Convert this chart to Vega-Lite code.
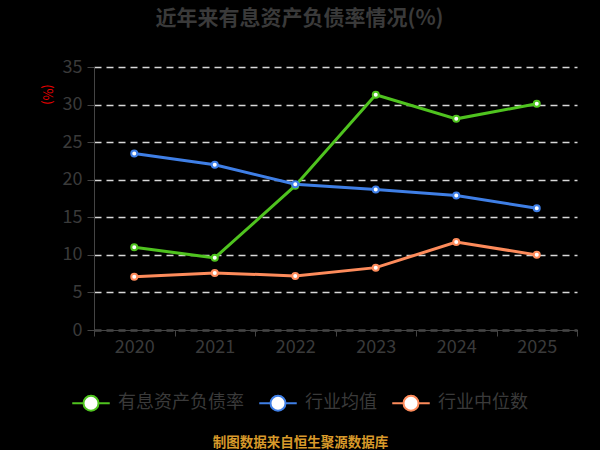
{
  "$schema": "https://vega.github.io/schema/vega-lite/v6.json",
  "width": 483,
  "height": 263,
  "autosize": "none",
  "padding": {"left": 94, "top": 67, "right": 23, "bottom": 120},
  "background": "#000000",
  "title": {
    "text": "近年来有息资产负债率情况(%)",
    "font": "Noto Sans CJK SC",
    "fontSize": 21,
    "fontWeight": "bold",
    "color": "#3a3a3a",
    "anchor": "middle",
    "dx": -36,
    "offset": 29
  },
  "data": {
    "values": [
      {"year": "2020", "series": "有息资产负债率", "value": 11.0},
      {"year": "2021", "series": "有息资产负债率", "value": 9.6},
      {"year": "2022", "series": "有息资产负债率", "value": 19.2},
      {"year": "2023", "series": "有息资产负债率", "value": 31.3},
      {"year": "2024", "series": "有息资产负债率", "value": 28.1},
      {"year": "2025", "series": "有息资产负债率", "value": 30.1},
      {"year": "2020", "series": "行业均值", "value": 23.5},
      {"year": "2021", "series": "行业均值", "value": 22.0},
      {"year": "2022", "series": "行业均值", "value": 19.4},
      {"year": "2023", "series": "行业均值", "value": 18.7},
      {"year": "2024", "series": "行业均值", "value": 17.9},
      {"year": "2025", "series": "行业均值", "value": 16.2},
      {"year": "2020", "series": "行业中位数", "value": 7.1},
      {"year": "2021", "series": "行业中位数", "value": 7.6},
      {"year": "2022", "series": "行业中位数", "value": 7.2},
      {"year": "2023", "series": "行业中位数", "value": 8.3},
      {"year": "2024", "series": "行业中位数", "value": 11.7},
      {"year": "2025", "series": "行业中位数", "value": 10.0}
    ]
  },
  "mark": {
    "type": "line",
    "strokeWidth": 3,
    "point": {"filled": false, "fill": "#ffffff", "size": 36, "strokeWidth": 2, "opacity": 1}
  },
  "encoding": {
    "x": {
      "field": "year",
      "type": "ordinal",
      "scale": {"paddingInner": 0, "paddingOuter": 0},
      "axis": {
        "title": "制图数据来自恒生聚源数据库",
        "titleFont": "Noto Sans CJK SC",
        "titleFontSize": 13.5,
        "titleFontWeight": "bold",
        "titleColor": "#d89a2a",
        "titleX": 206,
        "titleY": 112,
        "titleAnchor": null,
        "titleAlign": "center",
        "titleBaseline": "middle",
        "labelAngle": 0,
        "labelFont": "Noto Sans CJK SC",
        "labelFontSize": 18,
        "labelColor": "#3a3a3a",
        "labelPadding": 2,
        "tickBand": "extent",
        "tickSize": 6,
        "tickColor": "#444444",
        "domainColor": "#444444",
        "grid": false
      }
    },
    "y": {
      "field": "value",
      "type": "quantitative",
      "scale": {"domain": [0, 35]},
      "axis": {
        "title": "(%)",
        "titleAngle": 90,
        "titleColor": "#ee0000",
        "titleFont": "Noto Sans CJK SC",
        "titleFontSize": 13,
        "titleFontWeight": "normal",
        "titleX": -48,
        "titleY": 27,
        "titleAlign": "center",
        "titleBaseline": "middle",
        "values": [0, 5, 10, 15, 20, 25, 30, 35],
        "labelFont": "Noto Sans CJK SC",
        "labelFontSize": 18,
        "labelColor": "#3a3a3a",
        "labelPadding": 5,
        "tickSize": 7,
        "tickColor": "#444444",
        "domainColor": "#444444",
        "grid": true,
        "gridColor": "#d8d8d8",
        "gridDash": [7, 5],
        "gridWidth": 1.5
      }
    },
    "color": {
      "field": "series",
      "type": "nominal",
      "scale": {
        "domain": ["有息资产负债率", "行业均值", "行业中位数"],
        "range": ["#4fc31f", "#3f7fe6", "#fd8b5b"]
      },
      "legend": {
        "title": null,
        "orient": "none",
        "direction": "horizontal",
        "legendX": -12,
        "legendY": 327,
        "symbolType": "M-2.5,0L-1,0M1,0L2.5,0M-1,0A1,1,0,1,1,1,0A1,1,0,1,1,-1,0Z",
        "symbolSize": 225,
        "symbolFillColor": "#ffffff",
        "symbolStrokeWidth": 2,
        "labelFont": "Noto Sans CJK SC",
        "labelFontSize": 18,
        "labelColor": "#3a3a3a",
        "labelOffset": 18,
        "columnPadding": 11
      }
    }
  },
  "config": {"view": {"stroke": null}}
}
